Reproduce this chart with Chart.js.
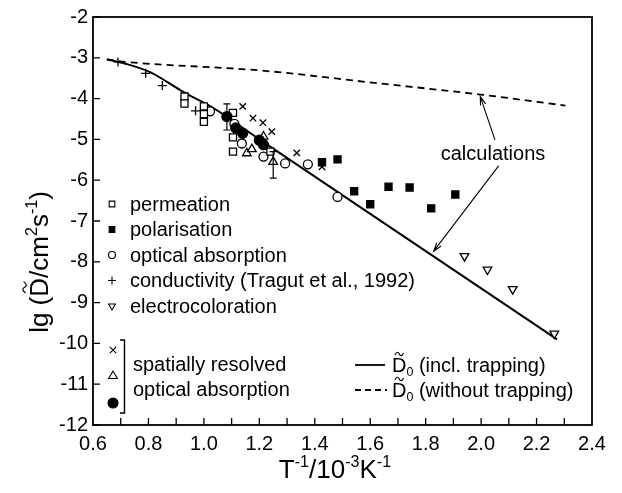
<!DOCTYPE html>
<html>
<head>
<meta charset="utf-8">
<script src="https://cdn.jsdelivr.net/npm/chart.js@4.4.1/dist/chart.umd.min.js"></script>
<style>
  body { margin: 0; background: #fff; }
  canvas { display: block; }
</style>
</head>
<body>
<canvas id="grafico" width="622" height="493"></canvas>
<script>
// valores: x = T^-1 / 10^-3 K^-1, y = lg D
const xTicks = [0.6, 0.8, 1.0, 1.2, 1.4, 1.6, 1.8, 2.0, 2.2, 2.4];
const yTicks = [-12, -11, -10, -9, -8, -7, -6, -5, -4, -3, -2];

const permeation = [[0.93, -3.95], [0.93, -4.12], [1.0, -4.19], [1.0, -4.38], [1.0, -4.57], [1.105, -4.35], [1.105, -4.95], [1.105, -5.30], [1.24, -5.30]];
const polarisation = [[1.426, -5.56], [1.482, -5.49], [1.542, -6.27], [1.60, -6.59], [1.666, -6.16], [1.742, -6.18], [1.82, -6.69], [1.907, -6.35]];
const opticalAbs = [[1.022, -4.31], [1.11, -4.62], [1.137, -5.10], [1.215, -5.42], [1.293, -5.59], [1.375, -5.61], [1.482, -6.41]];
const conductivity = [[0.69, -3.10], [0.79, -3.38], [0.85, -3.68], [0.97, -4.30]];
const electrocol = [[1.94, -7.86], [2.023, -8.19], [2.114, -8.67], [2.264, -9.76]];
const spatialX = [[1.14, -4.19], [1.177, -4.48], [1.213, -4.59], [1.245, -4.81], [1.335, -5.33], [1.426, -5.67]];
const spatialTri = [[1.155, -5.34], [1.173, -5.24], [1.215, -4.93], [1.25, -5.55]];
const spatialDot = [[1.083, -4.44], [1.115, -4.72], [1.14, -4.85], [1.2, -5.02], [1.215, -5.13]];
const errorBars = [[1.083, -4.13, -4.77], [1.25, -5.30, -5.95]];   // x, top, bottom

const withTrapping = [[0.65, -3.04], [0.72, -3.15], [0.806, -3.35], [0.87, -3.6], [0.932, -3.86], [1.034, -4.23], [1.203, -5.01], [2.274, -9.9]];
const withoutTrapping = [[0.65, -3.04], [0.72, -3.1], [1.203, -3.31], [1.636, -3.63], [1.997, -3.9], [2.304, -4.17]];

const arrowFrom = [[2.05, -5.01], [2.063, -5.65]];
const arrowTo = [[1.997, -3.95], [1.829, -7.74]];

const FONT = "'Liberation Sans', Arial, Helvetica, sans-serif";
Chart.defaults.font.family = FONT;
Chart.defaults.color = '#000';

const pts = arr => arr.map(p => ({ x: p[0], y: p[1] }));

function marcador(label, data, style, radius, fill, extra) {
  return Object.assign({
    label: label,
    data: pts(data),
    showLine: false,
    pointStyle: style,
    pointRadius: radius,
    pointHoverRadius: radius,
    pointBackgroundColor: fill,
    pointBorderColor: '#000',
    pointBorderWidth: 1.3,
    order: 1
  }, extra || {});
}

// texto com sobrescrito / subscrito / til
function larguraRuns(ctx, runs, size) {
  let w = 0;
  runs.forEach(r => {
    const s = (r.sup || r.sub) ? size * 0.62 : size;
    ctx.font = s + 'px ' + FONT;
    w += ctx.measureText(r.t).width;
  });
  return w;
}

function desenhaRuns(ctx, runs, x, y, size) {
  // y = linha de base
  ctx.textAlign = 'left';
  ctx.textBaseline = 'alphabetic';
  runs.forEach(r => {
    const s = (r.sup || r.sub) ? size * 0.62 : size;
    ctx.font = s + 'px ' + FONT;
    let yy = y;
    if (r.sup) yy = y - size * 0.42;
    if (r.sub) yy = y + size * 0.2;
    ctx.fillText(r.t, x, yy);
    const w = ctx.measureText(r.t).width;
    if (r.tilde) {
      const cx = x + w / 2, ty = y - size * 0.9, tw = size * 0.22;
      ctx.beginPath();
      ctx.moveTo(cx - tw, ty + 1);
      ctx.bezierCurveTo(cx - tw * 0.5, ty - 3, cx - tw * 0.2, ty - 2, cx, ty);
      ctx.bezierCurveTo(cx + tw * 0.2, ty + 2, cx + tw * 0.5, ty + 3, cx + tw, ty - 1);
      ctx.lineWidth = 1.2;
      ctx.stroke();
    }
    x += w;
  });
}

const extras = {
  id: 'extras',
  afterDatasetsDraw(chart) {
    const ctx = chart.ctx;
    const xs = chart.scales.x, ys = chart.scales.y;
    const a = chart.chartArea;
    const px = v => xs.getPixelForValue(v), py = v => ys.getPixelForValue(v);
    ctx.save();
    ctx.strokeStyle = '#000';
    ctx.fillStyle = '#000';

    // moldura e marcas internas
    ctx.lineWidth = 1.8;
    ctx.strokeRect(a.left, a.top, a.right - a.left, a.bottom - a.top);
    ctx.lineWidth = 1.3;
    ctx.beginPath();
    yTicks.forEach(v => { ctx.moveTo(a.left, py(v)); ctx.lineTo(a.left + 7, py(v)); });
    for (let i = 1; i < 18; i++) {
      const xx = px(0.6 + i * 0.1);
      ctx.moveTo(xx, a.bottom); ctx.lineTo(xx, a.bottom - 7);
    }
    ctx.stroke();

    // barras de erro
    ctx.lineWidth = 1.2;
    ctx.beginPath();
    errorBars.forEach(e => {
      const x = px(e[0]);
      ctx.moveTo(x, py(e[1])); ctx.lineTo(x, py(e[2]));
      ctx.moveTo(x - 3.5, py(e[1])); ctx.lineTo(x + 3.5, py(e[1]));
      ctx.moveTo(x - 3.5, py(e[2])); ctx.lineTo(x + 3.5, py(e[2]));
    });
    ctx.stroke();

    // setas "calculations"
    ctx.lineWidth = 1.1;
    arrowFrom.forEach((f, i) => {
      const x0 = px(f[0]), y0 = py(f[1]), x1 = px(arrowTo[i][0]), y1 = py(arrowTo[i][1]);
      const ang = Math.atan2(y1 - y0, x1 - x0);
      ctx.beginPath();
      ctx.moveTo(x0, y0); ctx.lineTo(x1, y1);
      ctx.moveTo(x1 - 9 * Math.cos(ang - 0.3), y1 - 9 * Math.sin(ang - 0.3));
      ctx.lineTo(x1, y1);
      ctx.lineTo(x1 - 9 * Math.cos(ang + 0.3), y1 - 9 * Math.sin(ang + 0.3));
      ctx.stroke();
    });
    ctx.font = '20px ' + FONT;
    ctx.textAlign = 'center';
    ctx.textBaseline = 'middle';
    ctx.fillText('calculations', 493, 154);

    // legenda à esquerda
    const draw = Chart.helpers.drawPoint;
    const linhas = [
      ['permeation', 'rect', 4, '#fff', 0],
      ['polarisation', 'rect', 4, '#000', 0],
      ['optical absorption', 'circle', 3.5, '#fff', 0],
      ['conductivity (Tragut et al., 1992)', 'cross', 4, '#fff', 0],
      ['electrocoloration', 'triangle', 4, '#fff', 180]
    ];
    linhas.forEach((l, i) => {
      const y = 204 + i * 25.5;
      ctx.fillStyle = l[3];
      ctx.lineWidth = 1.1;
      draw(ctx, { pointStyle: l[1], radius: l[2], rotation: l[4], borderWidth: 1.1 }, 112, y);
      ctx.fillStyle = '#000';
      ctx.font = '20px ' + FONT;
      ctx.textAlign = 'left';
      ctx.textBaseline = 'middle';
      ctx.fillText(l[0], 130, y + 1);
    });

    // grupo "spatially resolved"
    ctx.fillStyle = '#fff';
    draw(ctx, { pointStyle: 'crossRot', radius: 4.5, rotation: 0, borderWidth: 1.2 }, 113, 350);
    draw(ctx, { pointStyle: 'triangle', radius: 5, rotation: 0, borderWidth: 1.2 }, 113, 376);
    ctx.fillStyle = '#000';
    draw(ctx, { pointStyle: 'circle', radius: 5, rotation: 0, borderWidth: 1 }, 113, 403);
    ctx.lineWidth = 1.4;
    ctx.beginPath();
    ctx.moveTo(120, 340); ctx.lineTo(124.5, 340); ctx.lineTo(124.5, 413); ctx.lineTo(120, 413);
    ctx.stroke();
    ctx.font = '20px ' + FONT;
    ctx.textAlign = 'left';
    ctx.textBaseline = 'middle';
    ctx.fillText('spatially resolved', 133, 365);
    ctx.fillText('optical absorption', 133, 390);

    // legenda das curvas
    ctx.lineWidth = 1.8;
    ctx.beginPath(); ctx.moveTo(355, 365); ctx.lineTo(385, 365); ctx.stroke();
    ctx.setLineDash([6, 4]);
    ctx.beginPath(); ctx.moveTo(355, 390); ctx.lineTo(387, 390); ctx.stroke();
    ctx.setLineDash([]);
    desenhaRuns(ctx, [{ t: 'D', tilde: true }, { t: '0', sub: true }, { t: ' (incl. trapping)' }], 392, 372, 20);
    desenhaRuns(ctx, [{ t: 'D', tilde: true }, { t: '0', sub: true }, { t: ' (without trapping)' }], 392, 397, 20);

    // títulos dos eixos
    const tx = [{ t: 'T' }, { t: '-1', sup: true }, { t: '/10' }, { t: '-3', sup: true }, { t: 'K' }, { t: '-1', sup: true }];
    const wx = larguraRuns(ctx, tx, 26);
    desenhaRuns(ctx, tx, 335 - wx / 2, 478, 26);

    const ty = [{ t: 'lg (' }, { t: 'D', tilde: true }, { t: '/cm' }, { t: '2', sup: true }, { t: 's' }, { t: '-1', sup: true }, { t: ')' }];
    const wy = larguraRuns(ctx, ty, 26);
    ctx.translate(48, 262);
    ctx.rotate(-Math.PI / 2);
    desenhaRuns(ctx, ty, -wy / 2, 0, 26);
    ctx.restore();
  }
};

const ctx = document.getElementById('grafico').getContext('2d');

new Chart(ctx, {
  type: 'scatter',
  data: {
    datasets: [
      { label: 'D0 (incl. trapping)', data: pts(withTrapping), showLine: true, borderColor: '#000', borderWidth: 2, pointRadius: 0, cubicInterpolationMode: 'monotone', order: 10 },
      { label: 'D0 (without trapping)', data: pts(withoutTrapping), showLine: true, borderColor: '#000', borderWidth: 1.8, borderDash: [7, 5], pointRadius: 0, cubicInterpolationMode: 'monotone', order: 10 },
      marcador('conductivity', conductivity, 'cross', 4.5, '#fff'),
      marcador('permeation', permeation, 'rect', 5, '#fff'),
      marcador('optical absorption', opticalAbs, 'circle', 4.5, '#fff'),
      marcador('spatially resolved x', spatialX, 'crossRot', 4.5, '#fff'),
      marcador('spatially resolved triangle', spatialTri, 'triangle', 5, '#fff'),
      marcador('spatially resolved dot', spatialDot, 'circle', 5, '#000', { order: 0 }),
      marcador('polarisation', polarisation, 'rect', 5, '#000'),
      marcador('electrocoloration', electrocol, 'triangle', 5, '#fff', { pointRotation: 180 })
    ]
  },
  options: {
    responsive: false,
    animation: false,
    layout: { padding: { top: 17, right: 30, left: 0, bottom: 0 } },
    plugins: {
      legend: { display: false },
      tooltip: { enabled: false }
    },
    scales: {
      x: {
        type: 'linear',
        min: 0.6,
        max: 2.4,
        afterBuildTicks: s => { s.ticks = xTicks.map(v => ({ value: v })); },
        afterFit: s => { s.height = 68; },
        grid: { display: false, drawTicks: false },
        border: { display: false },
        ticks: {
          padding: 7,
          autoSkip: false,
          maxRotation: 0,
          color: '#000',
          font: { size: 20 },
          callback: v => v.toFixed(1)
        }
      },
      y: {
        type: 'linear',
        min: -12,
        max: -2,
        afterBuildTicks: s => { s.ticks = yTicks.map(v => ({ value: v })); },
        afterFit: s => { s.width = 93; },
        grid: { display: false, drawTicks: false },
        border: { display: false },
        ticks: {
          padding: 5,
          color: '#000',
          font: { size: 20 }
        }
      }
    }
  },
  plugins: [extras]
});
</script>
</body>
</html>
